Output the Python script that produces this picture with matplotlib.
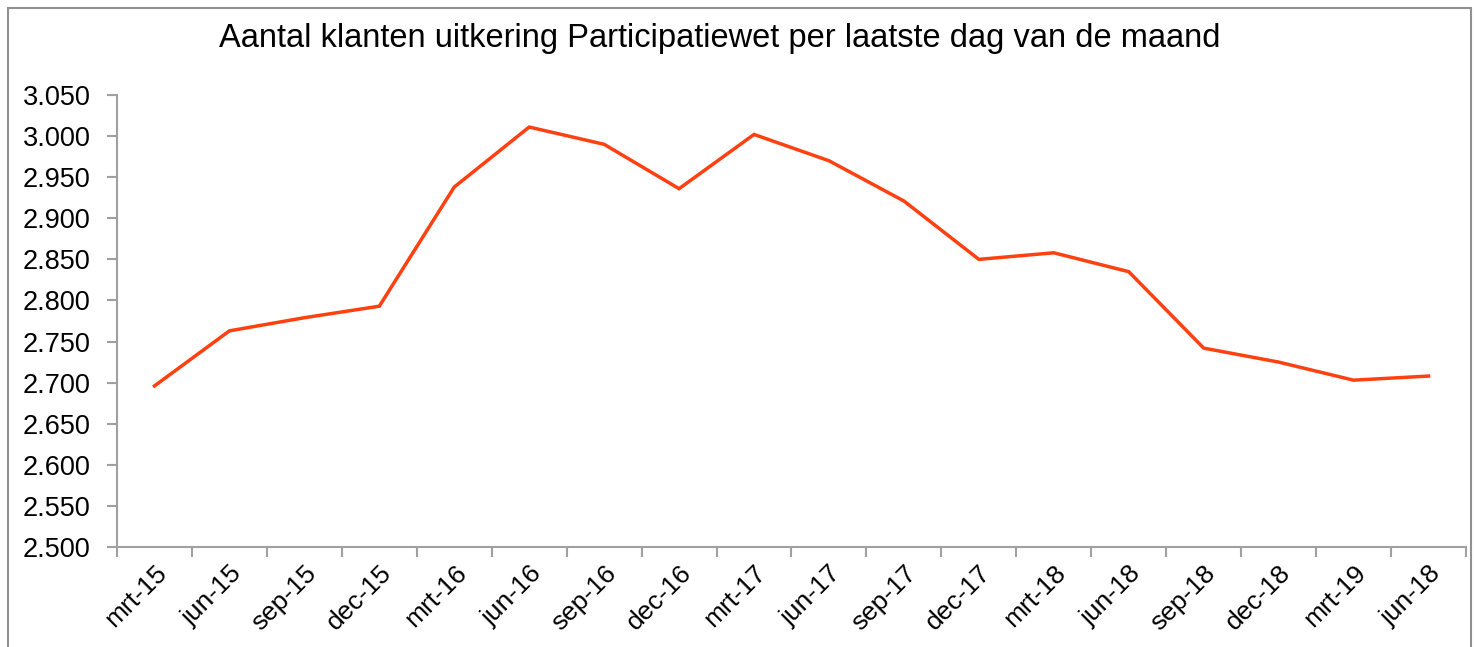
import matplotlib
matplotlib.use("Agg")
import matplotlib.pyplot as plt
from matplotlib.patches import Rectangle
from matplotlib.ticker import FuncFormatter, MultipleLocator
import numpy as np

categories = ["mrt-15", "jun-15", "sep-15", "dec-15", "mrt-16", "jun-16", "sep-16", "dec-16",
              "mrt-17", "jun-17", "sep-17", "dec-17", "mrt-18", "jun-18", "sep-18", "dec-18",
              "mrt-19", "jun-18"]
values = [2696, 2763, 2779, 2793, 2938, 3011, 2990, 2936,
          3002, 2970, 2921, 2850, 2858, 2835, 2742, 2725,
          2703, 2708]
title = "Aantal klanten uitkering Participatiewet per laatste dag van de maand"

plt.rcParams['font.family'] = ['Liberation Sans', 'DejaVu Sans']

fig = plt.figure(figsize=(14.76, 6.47), dpi=100)
ax = fig.add_axes([117/1476, 1-547/647, (1466-117)/1476, (547-95)/647])

x = np.arange(len(categories))
ax.plot(x, values, color='#FF4010', linewidth=2.5, solid_joinstyle='miter')

ax.set_xlim(-0.5, len(categories)-0.5)
ax.set_ylim(2500, 3050)
ax.yaxis.set_major_locator(MultipleLocator(50))
ax.yaxis.set_major_formatter(FuncFormatter(lambda v, p: f"{v/1000:.3f}"))

ax.set_xticks(np.arange(-0.5, len(categories)+0.5, 1))
ax.set_xticklabels([])
ax.set_xticks(x, minor=True)
ax.set_xticklabels(categories, minor=True, rotation=45, ha='right', va='top',
                   rotation_mode='anchor', fontsize=19)
ax.tick_params(axis='x', which='minor', length=0, pad=10)
ax.tick_params(axis='x', which='major', length=7, width=1.5, color='#a0a0a0', direction='out')
ax.tick_params(axis='y', length=7, width=1.5, color='#a0a0a0', direction='out', labelsize=19.5, pad=12)

for s in ['top', 'right']:
    ax.spines[s].set_visible(False)
for s in ['left', 'bottom']:
    ax.spines[s].set_color('#a0a0a0')
    ax.spines[s].set_linewidth(1.5)

fig.text(720/1476, 1-38/647, title, ha='center', va='center', fontsize=23.5)

fig.patches.append(Rectangle((8/1476, -0.1), (1471-8)/1476, 1.1-8/647, transform=fig.transFigure,
                             fill=False, edgecolor='#909090', linewidth=1.5))

fig.savefig("out.png", dpi=100)
